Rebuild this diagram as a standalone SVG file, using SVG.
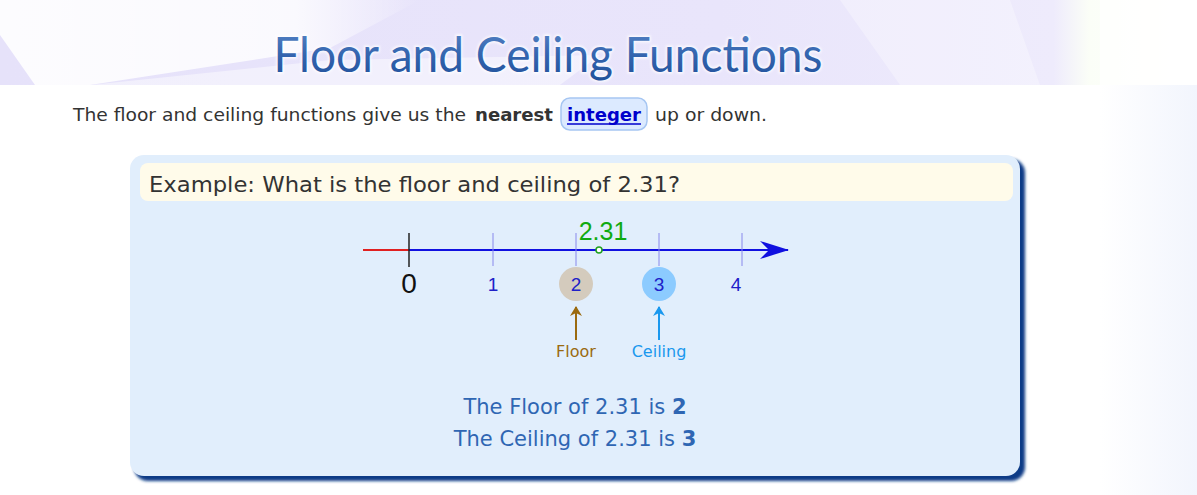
<svg xmlns="http://www.w3.org/2000/svg" width="1197" height="495" viewBox="0 0 1197 495">
<defs>
<linearGradient id="pageR" x1="0" y1="0" x2="1" y2="0">
<stop offset="0" stop-color="#ffffff"/><stop offset="1" stop-color="#f2f5fd"/>
</linearGradient>
<linearGradient id="hdr" x1="0" y1="0" x2="1" y2="0">
<stop offset="0" stop-color="#e6e2fa"/><stop offset="0.6" stop-color="#e9e5fb"/><stop offset="0.88" stop-color="#eeebfc"/><stop offset="0.91" stop-color="#fbfef7"/><stop offset="1" stop-color="#ffffff"/>
</linearGradient>
<linearGradient id="whiteL" x1="0" y1="0" x2="1" y2="0">
<stop offset="0" stop-color="#ffffff" stop-opacity="0.9"/><stop offset="0.7" stop-color="#ffffff" stop-opacity="0.8"/><stop offset="1" stop-color="#ffffff" stop-opacity="0"/>
</linearGradient>
<linearGradient id="titleG" x1="0" y1="0" x2="0" y2="1">
<stop offset="0" stop-color="#5a88c8"/><stop offset="0.5" stop-color="#3566b0"/><stop offset="1" stop-color="#1f4f9a"/>
</linearGradient>
<filter id="shadow" x="-5%" y="-5%" width="115%" height="115%">
<feGaussianBlur stdDeviation="1.5"/>
</filter>
<filter id="glow" x="-5%" y="-20%" width="110%" height="140%">
<feGaussianBlur stdDeviation="1.2"/>
</filter>
<marker id="axisHead" viewBox="0 0 30 20" refX="28" refY="10" markerWidth="30" markerHeight="20" markerUnits="userSpaceOnUse" orient="auto">
<path d="M0,1 L29,10 L0,19 L9,10 Z" fill="#1010e0"/>
</marker>
<marker id="floorHead" viewBox="0 0 10 14" refX="9" refY="7" markerWidth="10" markerHeight="14" markerUnits="userSpaceOnUse" orient="auto">
<path d="M0,1 L10,7 L0,13 L3,7 Z" fill="#9a6a10"/>
</marker>
<marker id="ceilHead" viewBox="0 0 10 14" refX="9" refY="7" markerWidth="10" markerHeight="14" markerUnits="userSpaceOnUse" orient="auto">
<path d="M0,1 L10,7 L0,13 L3,7 Z" fill="#1a98ee"/>
</marker>
</defs>
<style>
.body{font-family:"DejaVu Sans",Verdana,sans-serif;}
.num{font-family:"Liberation Sans",Arial,sans-serif;text-anchor:middle;}
.tick{stroke:#8888ec;stroke-width:1;}
.lbl{font-family:"DejaVu Sans","Liberation Sans",sans-serif;font-size:16px;text-anchor:middle;}
</style>

<!-- page background -->
<rect x="0" y="0" width="1197" height="495" fill="#ffffff"/>
<rect x="1100" y="85" width="97" height="410" fill="url(#pageR)"/>

<!-- header -->
<g id="header">
<rect x="0" y="0" width="1197" height="85" fill="url(#hdr)"/>
<polygon points="0,0 180,0 420,0 330,48 90,85 35,85 0,35" fill="url(#whiteL)"/>
<polygon points="90,85 330,60 600,55 560,85" fill="#ffffff" opacity="0.45"/>
<polygon points="840,0 1010,0 1040,85 900,85" fill="#ffffff" opacity="0.3"/>
<rect x="1100" y="0" width="97" height="85" fill="#ffffff" opacity="0.7"/>
<text x="548" y="72" font-family="Lato,'DejaVu Sans',sans-serif" font-size="48" text-anchor="middle" textLength="549" lengthAdjust="spacingAndGlyphs" fill="#ffffff" stroke="#ffffff" stroke-width="3" opacity="0.8" filter="url(#glow)">Floor and Ceiling Functions</text>
<text x="548" y="72" font-family="Lato,'DejaVu Sans',sans-serif" font-size="48" text-anchor="middle" textLength="549" lengthAdjust="spacingAndGlyphs" fill="url(#titleG)">Floor and Ceiling Functions</text>
</g>

<!-- intro line -->
<g id="intro" class="body" font-size="18" fill="#333333">
<text x="73" y="121" textLength="393" lengthAdjust="spacingAndGlyphs">The floor and ceiling functions give us the</text>
<text x="475" y="121" font-weight="bold" textLength="78" lengthAdjust="spacingAndGlyphs">nearest</text>
<rect x="561" y="98" width="86" height="32" rx="9" fill="#dceaff" stroke="#a6c6f2" stroke-width="1.5"/>
<text x="567" y="121" font-weight="bold" fill="#0000cc" textLength="74" lengthAdjust="spacingAndGlyphs">integer</text>
<line x1="567" y1="124" x2="641" y2="124" stroke="#0000cc" stroke-width="1.5"/>
<text x="655" y="121" textLength="112" lengthAdjust="spacingAndGlyphs">up or down.</text>
</g>

<!-- example panel -->
<g id="panel">
<rect x="134" y="159" width="891" height="322" rx="14" fill="#0b3a86" filter="url(#shadow)"/>
<rect x="130" y="155" width="890" height="321" rx="14" fill="#e1eefc"/>
<rect x="140" y="163" width="873" height="38" rx="8" fill="#fffbea"/>
<text x="149" y="192" class="body" font-size="21" fill="#333333" textLength="531" lengthAdjust="spacingAndGlyphs">Example: What is the floor and ceiling of 2.31?</text>
</g>

<!-- connectors -->
<g id="connectors">
<line x1="363" y1="250" x2="409" y2="250" stroke="#e02020" stroke-width="2"/>
<line x1="409" y1="250" x2="788" y2="250" stroke="#1010e0" stroke-width="2" marker-end="url(#axisHead)"/>
<line x1="576" y1="340" x2="576" y2="307" stroke="#9a6a10" stroke-width="2" marker-end="url(#floorHead)"/>
<line x1="659" y1="340" x2="659" y2="307" stroke="#1a98ee" stroke-width="2" marker-end="url(#ceilHead)"/>
</g>

<!-- ticks -->
<g id="ticks">
<line x1="409" y1="233" x2="409" y2="267" stroke="#222222" stroke-width="1.5"/>
<line class="tick" x1="493" y1="233" x2="493" y2="266"/>
<line class="tick" x1="576" y1="233" x2="576" y2="266"/>
<line class="tick" x1="659" y1="233" x2="659" y2="266"/>
<line class="tick" x1="742" y1="233" x2="742" y2="266"/>
</g>

<g id="point-231">
<circle cx="599" cy="250" r="3" fill="#ffffff" stroke="#20a020" stroke-width="1.5"/>
<text class="num" x="603" y="240" font-size="25" fill="#10aa10">2.31</text>
</g>

<g id="label-0"><text class="num" x="409" y="293" font-size="28" fill="#111111">0</text></g>
<g id="label-1"><text class="num" x="493" y="291" font-size="19" fill="#2020c8">1</text></g>
<g id="node-2">
<circle cx="576" cy="284" r="17" fill="#d4cbbd"/>
<text class="num" x="576" y="291" font-size="19" fill="#2020c8">2</text>
</g>
<g id="node-3">
<circle cx="659" cy="284" r="17" fill="#8ccbff"/>
<text class="num" x="659" y="291" font-size="19" fill="#2020c8">3</text>
</g>
<g id="label-4"><text class="num" x="736" y="291" font-size="19" fill="#2020c8">4</text></g>

<g id="floor-label"><text class="lbl" x="576" y="357" fill="#9a6a10">Floor</text></g>
<g id="ceiling-label"><text class="lbl" x="659" y="357" fill="#1a98ee">Ceiling</text></g>

<g id="results" class="body" font-size="21" fill="#2f66b3" text-anchor="middle">
<text x="575" y="414">The Floor of 2.31 is <tspan font-weight="bold">2</tspan></text>
<text x="575" y="446">The Ceiling of 2.31 is <tspan font-weight="bold">3</tspan></text>
</g>
</svg>
